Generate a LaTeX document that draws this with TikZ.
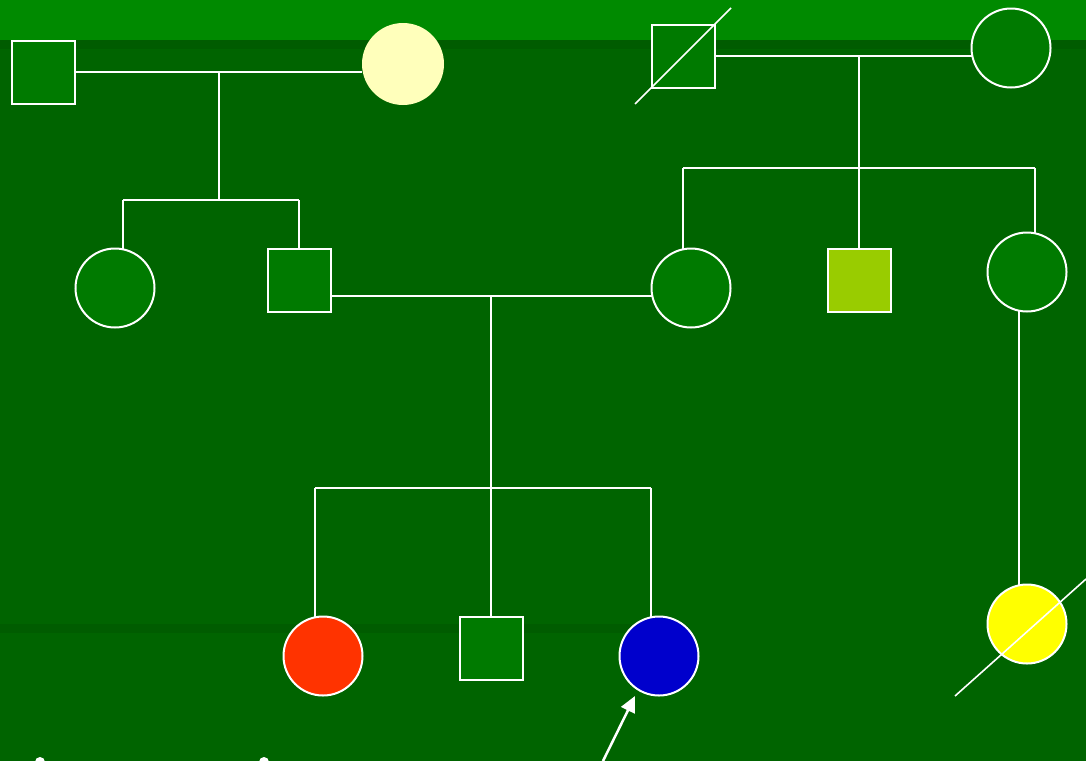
\documentclass[tikz,border=0pt]{standalone}
\usetikzlibrary{arrows.meta}
\definecolor{bgmain}{HTML}{006400}
\definecolor{bgtop}{HTML}{008A00}
\definecolor{bgstrip}{HTML}{005C00}
\definecolor{nodegreen}{HTML}{007A00}
\definecolor{cream}{HTML}{FFFFBB}
\definecolor{lime}{HTML}{99CC00}
\definecolor{redp}{HTML}{FF3300}
\definecolor{bluep}{HTML}{0000CC}
\definecolor{yel}{HTML}{FFFF00}
\tikzset{
  male/.style={draw=white, line width=2pt, fill=nodegreen, minimum size=63pt, inner sep=0pt, outer sep=0pt},
  female/.style={circle, draw=white, line width=2pt, fill=nodegreen, minimum size=79pt, inner sep=0pt, outer sep=0pt},
  link/.style={white, line width=2pt},
}
\begin{document}
\begin{tikzpicture}[x=1pt,y=-1pt]
\useasboundingbox (0,0) rectangle (1086,761);
% background
\fill[bgmain] (0,0) rectangle (1086,761);
\fill[bgtop] (0,0) rectangle (1086,40);
\fill[bgstrip] (0,40) rectangle (1086,49);
\fill[bgstrip] (0,624) rectangle (640,633);
% generation I
\node[male] (A) at (43,72) {};
\node[circle, fill=cream, minimum size=82pt, inner sep=0pt] (B) at (403,64) {};
\node[male] (E) at (683,56) {};
\node[female] (F) at (1011,48) {};
% generation II
\node[female] (C) at (115,288) {};
\node[male] (D) at (299,280) {};
\node[female] (G) at (691,288) {};
\node[male, fill=lime] (H) at (859,280) {};
\node[female] (I) at (1027,272) {};
% generation III
\node[female, fill=redp] (J) at (323,656) {};
\node[male] (K) at (491,648) {};
\node[female, fill=bluep] (L) at (659,656) {};
\node[female, fill=yel] (M) at (1027,624) {};
% junction coordinates
\coordinate (mAB) at (219,72);
\coordinate (sAB) at (219,200);
\coordinate (sABl) at (123,200);
\coordinate (sABr) at (299,200);
\coordinate (mEF) at (859,56);
\coordinate (sEF) at (859,168);
\coordinate (sEFl) at (683,168);
\coordinate (sEFr) at (1035,168);
\coordinate (mDG) at (491,296);
\coordinate (sDG) at (491,488);
\coordinate (sDGl) at (315,488);
\coordinate (sDGr) at (651,488);
% couple A-B
\draw[link] (A.east) -- (mAB) -- (362,72);
\draw[link] (mAB) -- (sAB);
\draw[link] (sABl) -- (sABr);
\draw[link] (sABl) -- (sABl |- C.north);
\draw[link] (sABr) -- (D.north);
% couple E-F
\draw[link] (E.east |- mEF) -- (mEF) -- (F.west |- mEF);
\draw[link] (mEF) -- (sEF);
\draw[link] (sEFl) -- (sEFr);
\draw[link] (sEFl) -- (683,249);
\draw[link] (sEF) -- (H.north);
\draw[link] (sEFr) -- (1035,233);
% couple D-G
\draw[link] (D.east |- mDG) -- (mDG) -- (652,296);
\draw[link] (mDG) -- (sDG);
\draw[link] (sDGl) -- (sDGr);
\draw[link] (sDGl) -- (315,617);
\draw[link] (sDG) -- (K.north);
\draw[link] (sDGr) -- (651,617);
% I to M
\draw[link] (1019,311) -- (1019,585);
% deceased marks
\draw[white, line width=1.6pt] (635,104) -- (731,8);
\draw[white, line width=1.6pt] (955,696) -- (1086,579);
% proband arrow
\coordinate (arrtail) at (603,761);
\coordinate (arrhead) at (635,696);
\draw[white, line width=2.5pt, -{Triangle[length=16pt,width=15pt]}] (arrtail) -- (arrhead);
% partial white dots at bottom
\fill[white] (40,762) circle (5);
\fill[white] (264,762) circle (5);
\end{tikzpicture}
\end{document}
